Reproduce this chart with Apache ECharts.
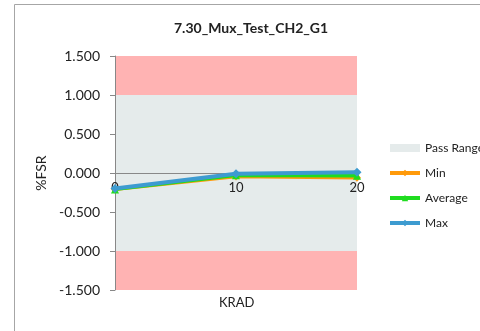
<!DOCTYPE html>
<html>
<head>
<meta charset="utf-8">
<script src="https://cdn.jsdelivr.net/npm/echarts@6/dist/echarts.min.js"></script>
<style>
  html, body { margin: 0; padding: 0; background: #fff; }
  #chart { width: 480px; height: 331px; }
</style>
</head>
<body>
<div id="chart"></div>
<script>
var dom = document.getElementById("chart");
var myChart = echarts.init(dom);

// data
var krad = [0, 10, 20];
var minVals = [-0.21, -0.045, -0.06];
var avgVals = [-0.21, -0.03, -0.035];
var maxVals = [-0.2, -0.01, 0.01];
var passRange = [-1, 1];
var failLow = [-1.5, -1];
var failHigh = [1, 1.5];

function pairs(xs, ys) {
    var out = [];
    for (var i = 0; i < xs.length; i++) out.push([xs[i], ys[i]]);
    return out;
}

var font = "Lato, 'Liberation Sans', sans-serif";

var option = {
    animation: false,
    textStyle: { fontFamily: font },
    title: [{
        text: '7.30_Mux_Test_CH2_G1',
        left: 174,
        top: 21,
        padding: 0,
        textStyle: { fontSize: 14, fontWeight: 'bold', color: '#222', fontFamily: font }
    }, {
        text: 'KRAD',
        left: 219,
        top: 296,
        padding: 0,
        textStyle: { fontSize: 13, fontWeight: 'normal', color: '#222', fontFamily: font }
    }],
    graphic: [{
        type: 'rect',
        shape: { x: 14.5, y: 4.5, width: 700, height: 500 },
        style: { fill: 'none', stroke: '#a6a6a6', lineWidth: 1 },
        silent: true
    }],
    grid: { left: 115, top: 56, width: 242, height: 234 },
    legend: {
        orient: 'vertical',
        left: 388,
        top: 142,
        padding: 0,
        itemWidth: 30,
        itemHeight: 8,
        itemGap: 13,
        lineStyle: { width: 4 },
        textStyle: { fontSize: 12, color: '#222', fontFamily: font },
        data: [
            { name: 'Pass Range', icon: 'rect' },
            { name: 'Min' },
            { name: 'Average' },
            { name: 'Max' }
        ]
    },
    xAxis: {
        type: 'value',
        min: 0,
        max: 20,
        interval: 10,
        offset: -117,
        z: 10,
        axisLine: { show: true, onZero: false, lineStyle: { color: '#888' } },
        axisTick: { show: false },
        splitLine: { show: false },
        axisLabel: { fontSize: 13, color: '#222', margin: 8 }
    },
    yAxis: {
        type: 'value',
        min: -1.5,
        max: 1.5,
        interval: 0.5,
        z: 10,
        name: '%FSR',
        nameLocation: 'middle',
        nameRotate: 90,
        nameGap: 64,
        nameTextStyle: { fontSize: 14, color: '#222' },
        axisLine: { show: true, lineStyle: { color: '#888' } },
        axisTick: { show: true, length: 5, lineStyle: { color: '#888' } },
        splitLine: { show: false },
        axisLabel: {
            fontSize: 14,
            color: '#222',
            margin: 15,
            formatter: function (v) { return v.toFixed(3); }
        }
    },
    series: [{
        name: 'Pass Range',
        type: 'line',
        data: [],
        z: 0,
        itemStyle: { color: '#e5ebeb' },
        lineStyle: { color: '#e5ebeb' },
        markArea: {
            silent: true,
            itemStyle: { color: '#e5ebeb' },
            data: [[{ yAxis: passRange[0] }, { yAxis: passRange[1] }]]
        }
    }, {
        name: 'Fail',
        type: 'line',
        data: [],
        z: 0,
        markArea: {
            silent: true,
            itemStyle: { color: '#ffb3b3' },
            data: [
                [{ yAxis: failLow[0] }, { yAxis: failLow[1] }],
                [{ yAxis: failHigh[0] }, { yAxis: failHigh[1] }]
            ]
        }
    }, {
        name: 'Min',
        type: 'line',
        data: pairs(krad, minVals),
        symbol: 'diamond',
        symbolSize: 8,
        lineStyle: { width: 3.5, color: '#ff9a0a' },
        itemStyle: { color: '#ff9a0a' },
        z: 13
    }, {
        name: 'Average',
        type: 'line',
        data: pairs(krad, avgVals),
        symbol: 'triangle',
        symbolSize: 8,
        lineStyle: { width: 3.5, color: '#1fdc1f' },
        itemStyle: { color: '#1fdc1f' },
        z: 14
    }, {
        name: 'Max',
        type: 'line',
        data: pairs(krad, maxVals),
        symbol: 'diamond',
        symbolSize: 9,
        lineStyle: { width: 4, color: '#3d9bd0' },
        itemStyle: { color: '#3d9bd0' },
        z: 15
    }]
};

myChart.setOption(option);
</script>
</body>
</html>
